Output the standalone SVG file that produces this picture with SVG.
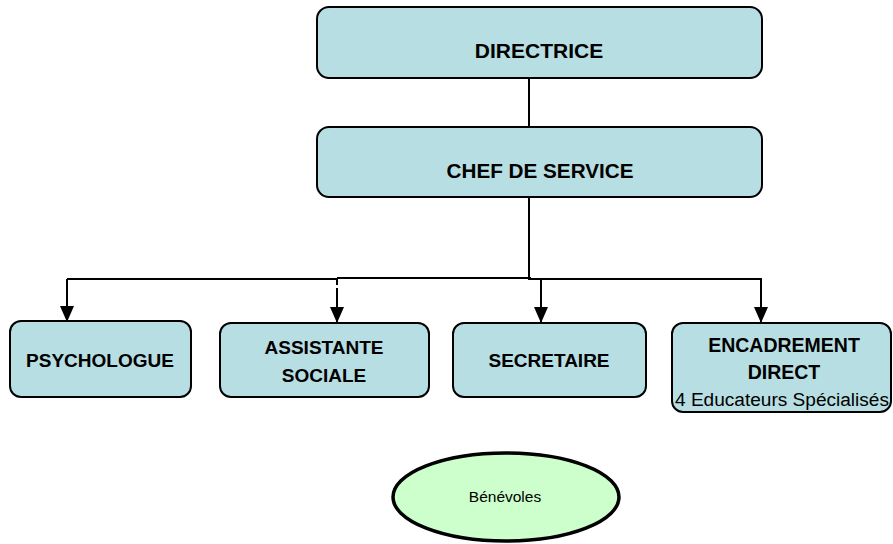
<svg xmlns="http://www.w3.org/2000/svg" width="893" height="544" viewBox="0 0 893 544">
<style>
.box{fill:#b7dee2;stroke:#000;stroke-width:2}
.oval{fill:#ccffcc;stroke:#000;stroke-width:3.5}
.t{font-family:"Liberation Sans",Arial,sans-serif;font-weight:bold;fill:#000;text-anchor:middle}
.n{font-family:"Liberation Sans",Arial,sans-serif;fill:#000;text-anchor:middle}
.c{fill:none;stroke:#000;stroke-width:2}
</style>
<defs>
<marker id="arr" markerUnits="userSpaceOnUse" markerWidth="16" markerHeight="14" viewBox="0 0 16 14" refX="16" refY="7" orient="auto">
<path d="M0,0 L16,7 L0,14 Z" fill="#000"/>
</marker>
</defs>
<g id="connectors">
<path class="c" d="M529 78 V127" stroke-width="3"/>
<path class="c" d="M529 197 V280" stroke-width="4"/>
<path class="c" d="M337 278 H531" stroke-width="4.5"/>
<path class="c" d="M67 279 H337"/>
<path class="c" d="M529 279 H762"/>
<path class="c" d="M67 279 V322" marker-end="url(#arr)"/>
<path class="c" d="M337 279 V323" stroke-dasharray="6 3 40" marker-end="url(#arr)"/>
<path class="c" d="M541 279 V323" marker-end="url(#arr)"/>
<path class="c" d="M761 279 V323" marker-end="url(#arr)"/>
</g>
<g id="directrice">
<rect class="box" x="317" y="7" width="445" height="71" rx="12"/>
<text class="t" x="539" y="58" font-size="21">DIRECTRICE</text>
</g>
<g id="chef">
<rect class="box" x="317" y="127" width="445" height="70" rx="12"/>
<text class="t" x="540" y="178" font-size="20.7">CHEF DE SERVICE</text>
</g>
<g id="psychologue">
<rect class="box" x="10" y="321" width="181" height="76" rx="11"/>
<text class="t" x="100" y="367" font-size="19">PSYCHOLOGUE</text>
</g>
<g id="assistante">
<rect class="box" x="220" y="323" width="209" height="74" rx="11"/>
<text class="t" x="324" y="354" font-size="19">ASSISTANTE</text>
<text class="t" x="324" y="382" font-size="19">SOCIALE</text>
</g>
<g id="secretaire">
<rect class="box" x="453" y="323" width="193" height="74" rx="11"/>
<text class="t" x="549" y="367" font-size="19">SECRETAIRE</text>
</g>
<g id="encadrement">
<rect class="box" x="672" y="323" width="219" height="89" rx="11"/>
<text class="t" x="784" y="352" font-size="19.5">ENCADREMENT</text>
<text class="t" x="784" y="379" font-size="19.5">DIRECT</text>
<text class="n" x="782" y="406" font-size="18" textLength="214" lengthAdjust="spacingAndGlyphs">4 Educateurs Spécialisés</text>
</g>
<g id="benevoles">
<ellipse class="oval" cx="506" cy="497" rx="113" ry="44"/>
<text class="n" x="505" y="502" font-size="15.5">Bénévoles</text>
</g>
</svg>
